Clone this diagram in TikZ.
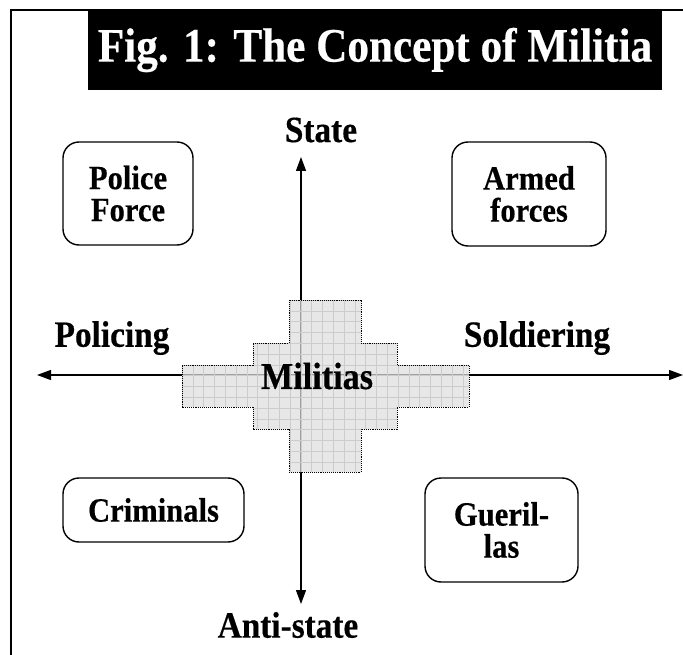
\documentclass[tikz,border=0pt]{standalone}
\usepackage{fontspec}
\newfontfamily\cf[FakeStretch=0.9, BoldFeatures={FakeBold=0.4}]{Liberation Serif}
\usetikzlibrary{arrows.meta}
\tikzset{
  lbl/.style={font=\cf\bfseries\fontsize{37}{37}\selectfont, inner sep=0pt},
  catbox/.style={draw, line width=1.4pt, rounded corners=16pt, align=center,
    font=\cf\bfseries\fontsize{34}{32}\selectfont, inner sep=0pt},
  axis/.style={line width=1.3pt, {Triangle[length=14pt,width=10pt]}-{Triangle[length=14pt,width=10pt]}},
  titlebox/.style={fill=black, text=white, inner sep=0pt,
    font=\cf\bfseries\fontsize{48}{48}\selectfont},
  gridline/.style={draw=black!20, line width=0.6pt}
}
\begin{document}
\begin{tikzpicture}[x=1pt,y=-1pt]
\useasboundingbox (0,0) rectangle (683,655);
% frame
\coordinate (fa) at (11,655);
\coordinate (fb) at (11,10);
\coordinate (fc) at (683,10);
\draw[line width=1.3pt] (fa) -- (fb) -- (fc);
% title
\node[titlebox, minimum width=574pt, minimum height=80pt] (title) at (375,50) {Fig. 1: The Concept of Militia};
% axes
\coordinate (top) at (301,157);
\coordinate (bot) at (301,604);
\coordinate (lft) at (37,375);
\coordinate (rgt) at (683,375);
\draw[axis] (bot) -- (top);
\draw[axis] (lft) -- (rgt);
% militias cross
\def\crosspath{(182,365) -- (253,365) -- (253,343) -- (289,343) -- (289,300) -- (361,300) -- (361,343) -- (397,343) -- (397,365) -- (469,365) -- (469,407) -- (397,407) -- (397,429) -- (361,429) -- (361,472) -- (289,472) -- (289,429) -- (253,429) -- (253,407) -- (182,407) -- cycle}
\fill[black!13, opacity=0.72] \crosspath;
\begin{scope}
\clip \crosspath;
\foreach \gx in {0,...,27} {\draw[gridline] (182+\gx*10.8,298) -- (182+\gx*10.8,475);}
\foreach \gy in {0,...,16} {\draw[gridline] (180,300+\gy*10.8) -- (472,300+\gy*10.8);}
\end{scope}
\draw[densely dotted, line width=0.9pt] \crosspath;
\node[lbl, font=\cf\bfseries\fontsize{38}{38}\selectfont] (mil) at (317,376) {Militias};
% axis labels
\node[lbl] (state) at (321,130) {State};
\node[lbl] (anti) at (288,625) {Anti-state};
\node[lbl] (pol) at (112,338) {Policing};
\node[lbl] (sol) at (537,338) {Soldiering};
% category boxes
\node[catbox, minimum width=130pt, minimum height=103pt] (police) at (128,193.5) {Police\\Force};
\node[catbox, minimum width=154pt, minimum height=104pt] (armed) at (529,194) {Armed\\forces};
\node[catbox, minimum width=181pt, minimum height=64pt] (crim) at (153.5,510) {Criminals};
\node[catbox, minimum width=153pt, minimum height=104pt] (guer) at (501.5,530) {Gueril-\\las};
\end{tikzpicture}
\end{document}
